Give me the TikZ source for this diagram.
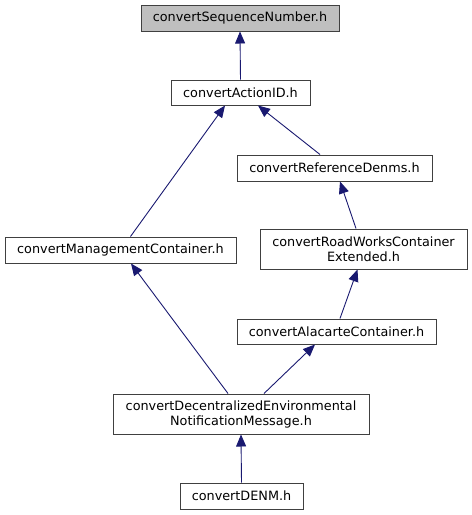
\documentclass[tikz,border=0pt]{standalone}
\usepackage{fontspec}
\setmainfont{DejaVu Sans}
\usetikzlibrary{arrows.meta}
\definecolor{edgeblue}{HTML}{191970}
\definecolor{boxborder}{HTML}{404040}
\definecolor{rootfill}{HTML}{BFBFBF}
\begin{document}
\begin{tikzpicture}[x=1pt,y=-1pt,
  box/.style={draw=boxborder, fill=white, line width=1pt, inner sep=0pt, align=center,
    font=\fontsize{12.8}{15}\selectfont},
  dep/.style={draw=edgeblue, line width=0.9pt, {Triangle[length=12pt,width=10pt]}-, edgeblue}
]
\useasboundingbox (0,0) rectangle (472,515);
\node[box, fill=rootfill, minimum width=198pt, minimum height=26pt] (seq) at (240,18) {convertSequenceNumber.h};
\node[box, minimum width=139pt, minimum height=25pt] (act) at (240.5,92.5) {convertActionID.h};
\node[box, minimum width=195pt, minimum height=26pt] (ref) at (334.5,168) {convertReferenceDenms.h};
\node[box, minimum width=231pt, minimum height=26pt] (mgmt) at (120.5,250) {convertManagementContainer.h};
\node[box, minimum width=207pt, minimum height=40pt] (road) at (363.5,249) {convertRoadWorksContainer\\Extended.h};
\node[box, minimum width=199pt, minimum height=25pt] (ala) at (336.5,331.5) {convertAlacarteContainer.h};
\node[box, minimum width=256pt, minimum height=40pt] (den) at (241,414) {convertDecentralizedEnvironmental\\NotificationMessage.h};
\node[box, minimum width=123pt, minimum height=26pt] (denm) at (241.5,496) {convertDENM.h};

\draw[dep] (seq.south) -- (act.north);
\draw[dep] ([xshift=-15.5pt]act.south) -- ([xshift=10pt]mgmt.north);
\draw[dep] ([xshift=17.5pt]act.south) -- ([xshift=-14.5pt]ref.north);
\draw[dep] ([xshift=5.5pt]ref.south) -- ([xshift=-7.5pt]road.north);
\draw[dep] ([xshift=-6pt]road.south) -- ([xshift=3.5pt]ala.north);
\draw[dep] ([xshift=10.5pt]mgmt.south) -- ([xshift=-13pt]den.north);
\draw[dep] ([xshift=-21.5pt]ala.south) -- ([xshift=23pt]den.north);
\draw[dep] (den.south) -- (denm.north);
\end{tikzpicture}
\end{document}
